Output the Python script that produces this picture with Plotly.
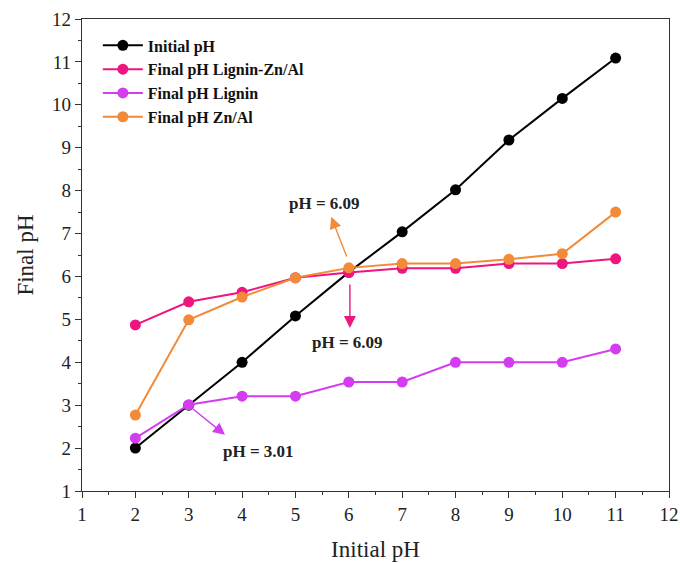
import plotly.graph_objects as go

initial_ph = [2, 3, 4, 5, 6, 7, 8, 9, 10, 11]
init_line = [2.0, 3.0, 4.0, 5.08, 6.1, 7.04, 8.02, 9.18, 10.15, 11.09]
final_lignin_znal = [4.87, 5.41, 5.63, 5.97, 6.09, 6.19, 6.19, 6.3, 6.3, 6.41]
final_lignin = [2.23, 3.01, 3.21, 3.21, 3.54, 3.54, 4.0, 4.0, 4.0, 4.31]
final_znal = [2.77, 4.99, 5.52, 5.97, 6.2, 6.3, 6.3, 6.4, 6.53, 7.5]

series_names = ["Initial pH", "Final pH Lignin-Zn/Al", "Final pH Lignin", "Final pH Zn/Al"]
series_values = [init_line, final_lignin_znal, final_lignin, final_znal]
colors = ["#000000", "#EE157F", "#D43CF2", "#F28A38"]

FONT = "Liberation Serif"

fig = go.Figure()
for name, vals, c in zip(series_names, series_values, colors):
    fig.add_trace(go.Scatter(
        x=initial_ph, y=vals, name=name, mode="lines+markers",
        line=dict(color=c, width=2),
        marker=dict(color=c, size=11, line=dict(width=0)),
    ))

# arrows (tail -> head) in data coordinates
arrows = [
    ((5.97, 6.43), (5.67, 7.39), colors[3]),
    ((6.02, 5.85), (6.02, 4.80), colors[1]),
    ((3.0, 2.99), (3.68, 2.31), colors[2]),
]
for (tx, ty), (hx, hy), c in arrows:
    fig.add_annotation(x=hx, y=hy, ax=tx, ay=ty, xref="x", yref="y",
                       axref="x", ayref="y", text="", showarrow=True,
                       arrowhead=2, arrowsize=1.7, arrowwidth=1.4, arrowcolor=c)

labels = [("pH = 6.09", 5.55, 7.69), ("pH = 6.09", 5.98, 4.45), ("pH = 3.01", 4.30, 1.93)]
for t, x, y in labels:
    fig.add_annotation(x=x, y=y, xref="x", yref="y", text="<b>%s</b>" % t,
                       showarrow=False, font=dict(family=FONT, size=17, color="#222222"))

axis_common = dict(
    showline=True, linecolor="#333333", linewidth=1.2, mirror=True,
    ticks="outside", ticklen=6, tickwidth=1.2, tickcolor="#333333",
    showgrid=False, zeroline=False, dtick=1, automargin=False,
    tickfont=dict(family=FONT, size=19, color="#222222"),
    minor=dict(ticks="outside", ticklen=3, tickwidth=1, tickcolor="#333333", dtick=0.5, showgrid=False),
)

fig.update_layout(
    width=680, height=563,
    margin=dict(l=82, r=11, t=19, b=72),
    paper_bgcolor="white", plot_bgcolor="white",
    font=dict(family=FONT, color="#222222"),
    xaxis=dict(range=[1, 12], title=dict(text="Initial pH", font=dict(family=FONT, size=23), standoff=16), **axis_common),
    yaxis=dict(range=[1, 12], title=dict(text="Final pH", font=dict(family=FONT, size=23), standoff=12), **axis_common),
    legend=dict(x=0.027, y=0.98, xanchor="left", yanchor="top", bgcolor="rgba(0,0,0,0)",
                font=dict(family=FONT, size=16, color="#111111", weight="bold"),
                tracegroupgap=0, itemwidth=40),
    showlegend=True,
)

fig.write_html("out.html", config={"displayModeBar": False},
               post_script="document.body.style.margin='0';document.body.style.overflow='hidden';")
